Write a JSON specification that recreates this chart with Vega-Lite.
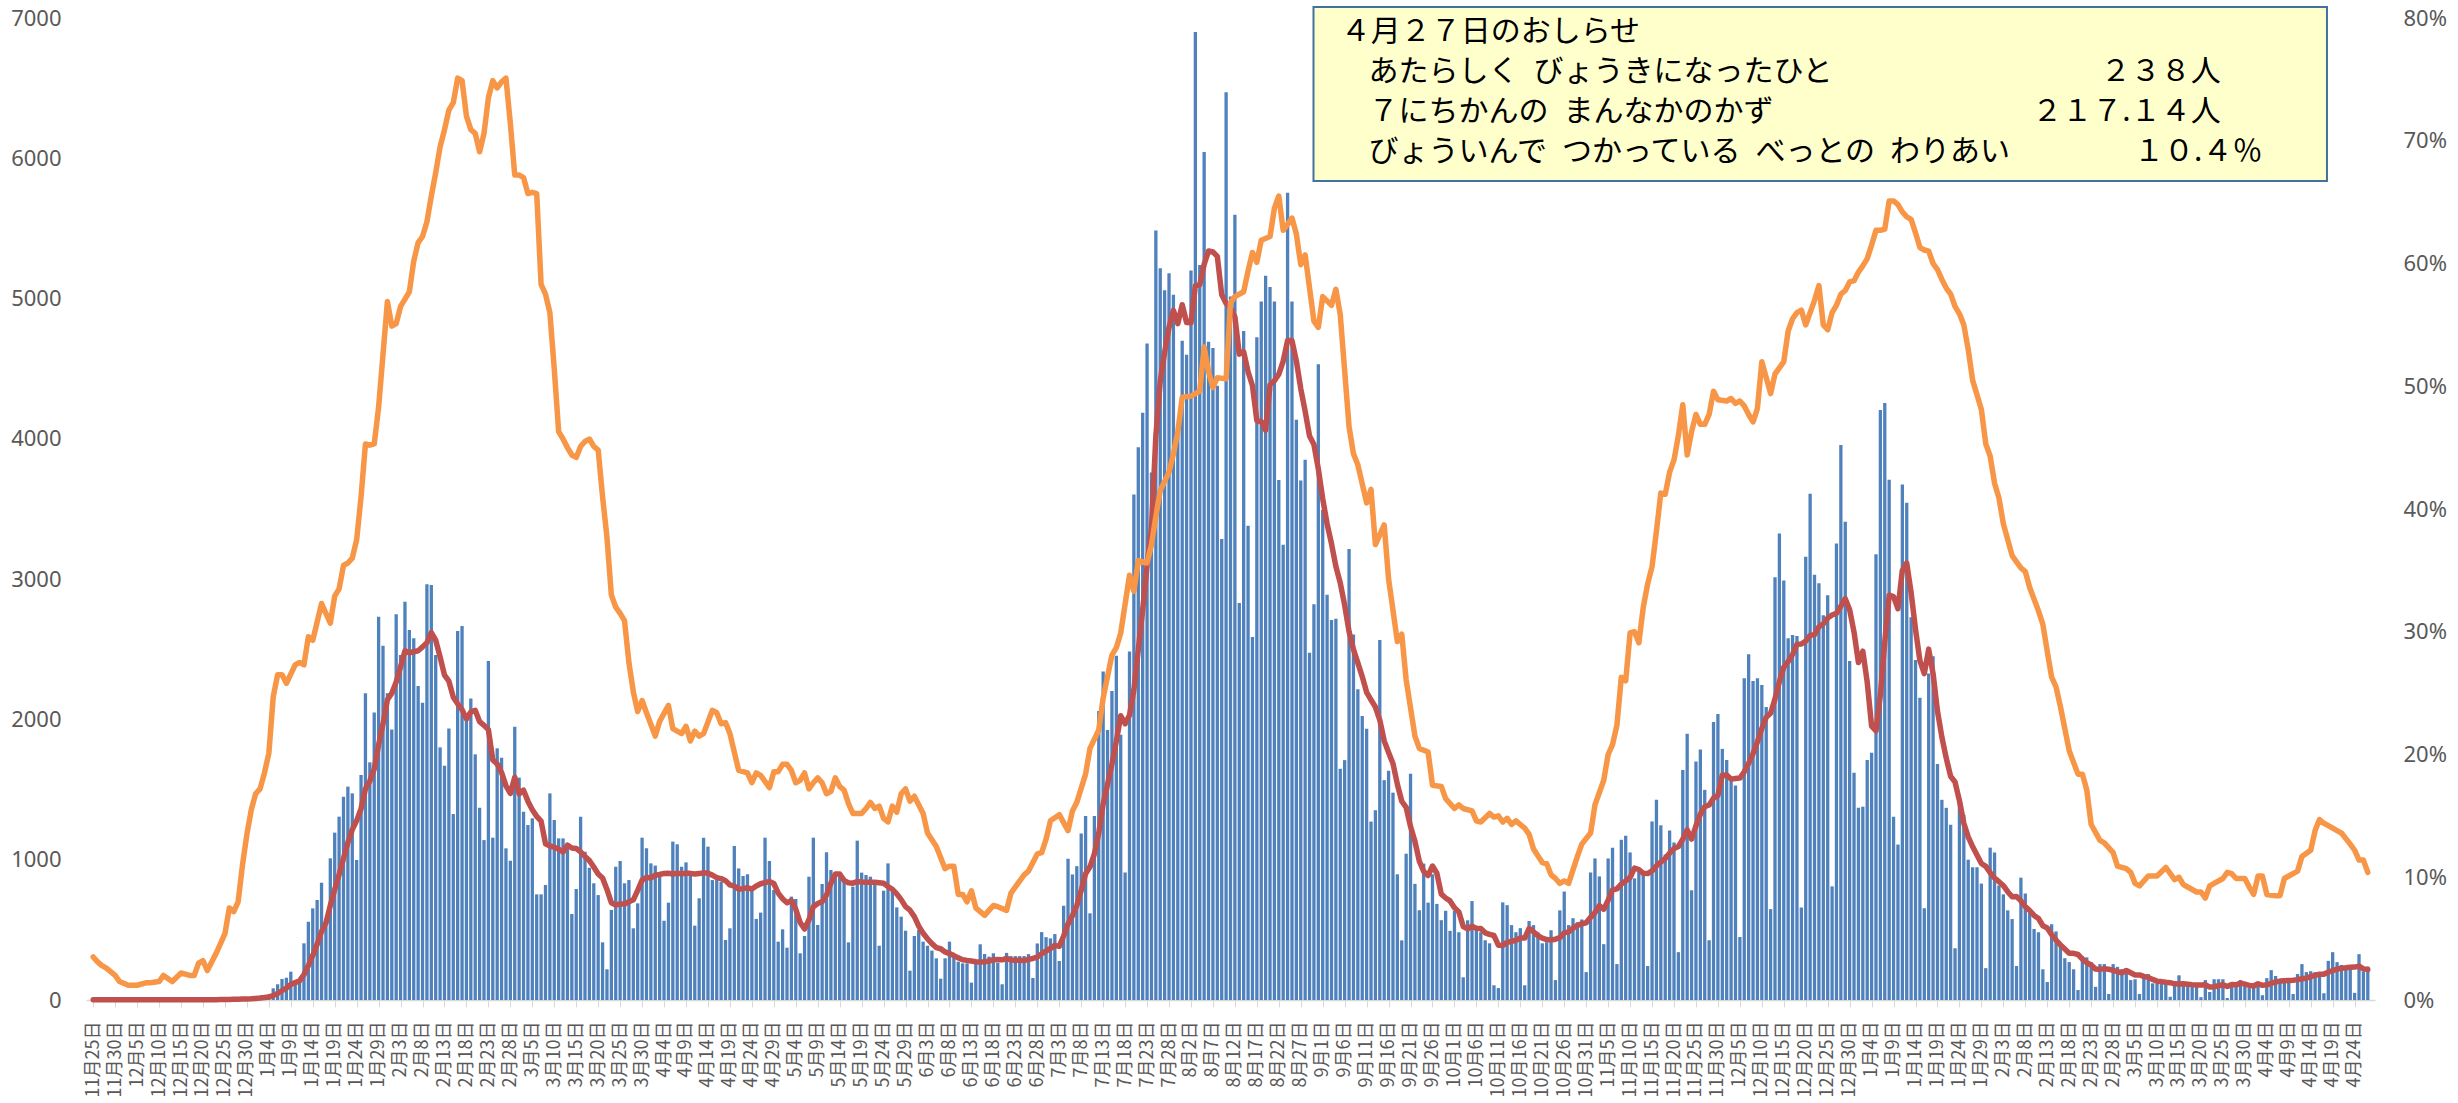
{
"$schema":"https://vega.github.io/schema/vega-lite/v6.json",
"width":2289,"height":982,
"autosize":{"type":"none"},
"padding":{"left":86,"top":18,"right":83,"bottom":103},
"background":"white",
"config":{"view":{"stroke":null},"font":"Noto Sans CJK JP","axis":{"grid":false}},
"datasets":{
"cases":[
{"i":0,"n":2},{"i":1,"n":1},{"i":2,"n":3},{"i":3,"n":2},{"i":4,"n":1},{"i":5,"n":0},{"i":6,"n":2},{"i":7,"n":1},{"i":8,"n":3},{"i":9,"n":2},
{"i":10,"n":1},{"i":11,"n":2},{"i":12,"n":0},{"i":13,"n":1},{"i":14,"n":2},{"i":15,"n":3},{"i":16,"n":1},{"i":17,"n":2},{"i":18,"n":1},{"i":19,"n":0},
{"i":20,"n":2},{"i":21,"n":3},{"i":22,"n":2},{"i":23,"n":1},{"i":24,"n":3},{"i":25,"n":2},{"i":26,"n":4},{"i":27,"n":3},{"i":28,"n":2},{"i":29,"n":5},
{"i":30,"n":4},{"i":31,"n":8},{"i":32,"n":6},{"i":33,"n":10},{"i":34,"n":12},{"i":35,"n":9},{"i":36,"n":15},{"i":37,"n":20},{"i":38,"n":25},{"i":39,"n":30},
{"i":40,"n":40},{"i":41,"n":83},{"i":42,"n":112},{"i":43,"n":150},{"i":44,"n":159},{"i":45,"n":202},{"i":46,"n":119},{"i":47,"n":130},{"i":48,"n":404},{"i":49,"n":558},
{"i":50,"n":653},{"i":51,"n":713},{"i":52,"n":836},{"i":53,"n":546},{"i":54,"n":1010},{"i":55,"n":1193},{"i":56,"n":1307},{"i":57,"n":1449},{"i":58,"n":1521},{"i":59,"n":1473},
{"i":60,"n":998},{"i":61,"n":1604},{"i":62,"n":2186},{"i":63,"n":1694},{"i":64,"n":2050},{"i":65,"n":2732},{"i":66,"n":2526},{"i":67,"n":2186},{"i":68,"n":1929},{"i":69,"n":2749},
{"i":70,"n":2459},{"i":71,"n":2839},{"i":72,"n":2637},{"i":73,"n":2578},{"i":74,"n":2238},{"i":75,"n":2119},{"i":76,"n":2963},{"i":77,"n":2958},{"i":78,"n":2459},{"i":79,"n":1801},
{"i":80,"n":1670},{"i":81,"n":1936},{"i":82,"n":1326},{"i":83,"n":2630},{"i":84,"n":2666},{"i":85,"n":1996},{"i":86,"n":2150},{"i":87,"n":1751},{"i":88,"n":1371},{"i":89,"n":1140},
{"i":90,"n":2416},{"i":91,"n":1157},{"i":92,"n":1794},{"i":93,"n":1727},{"i":94,"n":1081},{"i":95,"n":993},{"i":96,"n":1948},{"i":97,"n":1585},{"i":98,"n":1342},{"i":99,"n":1247},
{"i":100,"n":1295},{"i":101,"n":753},{"i":102,"n":753},{"i":103,"n":820},{"i":104,"n":1473},{"i":105,"n":1283},{"i":106,"n":1152},{"i":107,"n":1152},{"i":108,"n":1093},{"i":109,"n":613},
{"i":110,"n":791},{"i":111,"n":1307},{"i":112,"n":1057},{"i":113,"n":943},{"i":114,"n":832},{"i":115,"n":748},{"i":116,"n":411},{"i":117,"n":219},{"i":118,"n":642},{"i":119,"n":950},
{"i":120,"n":991},{"i":121,"n":832},{"i":122,"n":855},{"i":123,"n":511},{"i":124,"n":689},{"i":125,"n":1157},{"i":126,"n":1081},{"i":127,"n":974},{"i":128,"n":958},{"i":129,"n":891},
{"i":130,"n":565},{"i":131,"n":694},{"i":132,"n":1129},{"i":133,"n":1110},{"i":134,"n":950},{"i":135,"n":981},{"i":136,"n":891},{"i":137,"n":530},{"i":138,"n":725},{"i":139,"n":1157},
{"i":140,"n":1093},{"i":141,"n":855},{"i":142,"n":855},{"i":143,"n":843},{"i":144,"n":428},{"i":145,"n":511},{"i":146,"n":1098},{"i":147,"n":938},{"i":148,"n":884},{"i":149,"n":896},
{"i":150,"n":784},{"i":151,"n":578},{"i":152,"n":623},{"i":153,"n":1157},{"i":154,"n":991},{"i":155,"n":784},{"i":156,"n":416},{"i":157,"n":504},{"i":158,"n":373},{"i":159,"n":737},
{"i":160,"n":720},{"i":161,"n":333},{"i":162,"n":456},{"i":163,"n":879},{"i":164,"n":1157},{"i":165,"n":535},{"i":166,"n":827},{"i":167,"n":1053},{"i":168,"n":927},{"i":169,"n":903},
{"i":170,"n":879},{"i":171,"n":848},{"i":172,"n":411},{"i":173,"n":808},{"i":174,"n":1136},{"i":175,"n":908},{"i":176,"n":891},{"i":177,"n":879},{"i":178,"n":843},{"i":179,"n":387},
{"i":180,"n":779},{"i":181,"n":974},{"i":182,"n":772},{"i":183,"n":660},{"i":184,"n":594},{"i":185,"n":494},{"i":186,"n":209},{"i":187,"n":456},{"i":188,"n":499},{"i":189,"n":416},
{"i":190,"n":387},{"i":191,"n":352},{"i":192,"n":297},{"i":193,"n":152},{"i":194,"n":297},{"i":195,"n":416},{"i":196,"n":316},{"i":197,"n":273},{"i":198,"n":261},{"i":199,"n":261},
{"i":200,"n":124},{"i":201,"n":261},{"i":202,"n":397},{"i":203,"n":328},{"i":204,"n":309},{"i":205,"n":333},{"i":206,"n":265},{"i":207,"n":112},{"i":208,"n":336},{"i":209,"n":313},
{"i":210,"n":313},{"i":211,"n":313},{"i":212,"n":313},{"i":213,"n":327},{"i":214,"n":157},{"i":215,"n":403},{"i":216,"n":484},{"i":217,"n":448},{"i":218,"n":439},{"i":219,"n":470},
{"i":220,"n":278},{"i":221,"n":672},{"i":222,"n":1007},{"i":223,"n":895},{"i":224,"n":954},{"i":225,"n":1187},{"i":226,"n":1312},{"i":227,"n":618},{"i":228,"n":1312},{"i":229,"n":2060},
{"i":230,"n":2342},{"i":231,"n":1925},{"i":232,"n":2203},{"i":233,"n":2454},{"i":234,"n":1890},{"i":235,"n":909},{"i":236,"n":2485},{"i":237,"n":3604},{"i":238,"n":3940},{"i":239,"n":4186},
{"i":240,"n":4679},{"i":241,"n":3761},{"i":242,"n":5485},{"i":243,"n":5216},{"i":244,"n":5060},{"i":245,"n":5180},{"i":246,"n":5028},{"i":247,"n":4021},{"i":248,"n":4700},{"i":249,"n":4600},
{"i":250,"n":5200},{"i":251,"n":6900},{"i":252,"n":5239},{"i":253,"n":6045},{"i":254,"n":4692},{"i":255,"n":4648},{"i":256,"n":4379},{"i":257,"n":3286},{"i":258,"n":6470},{"i":259,"n":5015},
{"i":260,"n":5597},{"i":261,"n":2830},{"i":262,"n":4769},{"i":263,"n":3380},{"i":264,"n":2588},{"i":265,"n":4724},{"i":266,"n":4979},{"i":267,"n":5163},{"i":268,"n":5082},{"i":269,"n":4979},
{"i":270,"n":3707},{"i":271,"n":3246},{"i":272,"n":5754},{"i":273,"n":4979},{"i":274,"n":4137},{"i":275,"n":3703},{"i":276,"n":3851},{"i":277,"n":2476},{"i":278,"n":2821},{"i":279,"n":4531},
{"i":280,"n":3492},{"i":281,"n":2888},{"i":282,"n":2709},{"i":283,"n":2718},{"i":284,"n":1648},{"i":285,"n":1710},{"i":286,"n":3215},{"i":287,"n":2606},{"i":288,"n":2216},{"i":289,"n":2024},
{"i":290,"n":1934},{"i":291,"n":1272},{"i":292,"n":1352},{"i":293,"n":2566},{"i":294,"n":1567},{"i":295,"n":1634},{"i":296,"n":1478},{"i":297,"n":896},{"i":298,"n":425},{"i":299,"n":1043},
{"i":300,"n":1612},{"i":301,"n":828},{"i":302,"n":640},{"i":303,"n":972},{"i":304,"n":694},{"i":305,"n":896},{"i":306,"n":685},{"i":307,"n":569},{"i":308,"n":636},{"i":309,"n":493},
{"i":310,"n":636},{"i":311,"n":483},{"i":312,"n":162},{"i":313,"n":568},{"i":314,"n":705},{"i":315,"n":526},{"i":316,"n":483},{"i":317,"n":426},{"i":318,"n":404},{"i":319,"n":105},
{"i":320,"n":85},{"i":321,"n":696},{"i":322,"n":676},{"i":323,"n":534},{"i":324,"n":483},{"i":325,"n":512},{"i":326,"n":105},{"i":327,"n":563},{"i":328,"n":534},{"i":329,"n":483},
{"i":330,"n":404},{"i":331,"n":412},{"i":332,"n":497},{"i":333,"n":142},{"i":334,"n":639},{"i":335,"n":773},{"i":336,"n":534},{"i":337,"n":583},{"i":338,"n":554},{"i":339,"n":574},
{"i":340,"n":199},{"i":341,"n":909},{"i":342,"n":1009},{"i":343,"n":881},{"i":344,"n":398},{"i":345,"n":1009},{"i":346,"n":1086},{"i":347,"n":256},{"i":348,"n":1142},{"i":349,"n":1171},
{"i":350,"n":1052},{"i":351,"n":867},{"i":352,"n":938},{"i":353,"n":895},{"i":354,"n":242},{"i":355,"n":1273},{"i":356,"n":1427},{"i":357,"n":1245},{"i":358,"n":1037},{"i":359,"n":1208},
{"i":360,"n":1123},{"i":361,"n":341},{"i":362,"n":1640},{"i":363,"n":1898},{"i":364,"n":782},{"i":365,"n":1700},{"i":366,"n":1785},{"i":367,"n":1498},{"i":368,"n":426},{"i":369,"n":1981},
{"i":370,"n":2038},{"i":371,"n":1790},{"i":372,"n":1711},{"i":373,"n":1577},{"i":374,"n":1529},{"i":375,"n":449},{"i":376,"n":2293},{"i":377,"n":2464},{"i":378,"n":2274},{"i":379,"n":2293},
{"i":380,"n":2245},{"i":381,"n":2089},{"i":382,"n":648},{"i":383,"n":3013},{"i":384,"n":3325},{"i":385,"n":2990},{"i":386,"n":2578},{"i":387,"n":2601},{"i":388,"n":2595},{"i":389,"n":659},
{"i":390,"n":3160},{"i":391,"n":3609},{"i":392,"n":3032},{"i":393,"n":2970},{"i":394,"n":2742},{"i":395,"n":2885},{"i":396,"n":810},{"i":397,"n":3254},{"i":398,"n":3956},{"i":399,"n":3410},
{"i":400,"n":2416},{"i":401,"n":1620},{"i":402,"n":1370},{"i":403,"n":1378},{"i":404,"n":1711},{"i":405,"n":1762},{"i":406,"n":3177},{"i":407,"n":4206},{"i":408,"n":4255},{"i":409,"n":3709},
{"i":410,"n":1307},{"i":411,"n":1108},{"i":412,"n":3675},{"i":413,"n":3544},{"i":414,"n":2728},{"i":415,"n":2424},{"i":416,"n":2154},{"i":417,"n":654},{"i":418,"n":2328},{"i":419,"n":2450},
{"i":420,"n":1682},{"i":421,"n":1427},{"i":422,"n":1370},{"i":423,"n":1250},{"i":424,"n":369},{"i":425,"n":1401},{"i":426,"n":1320},{"i":427,"n":1000},{"i":428,"n":946},{"i":429,"n":946},
{"i":430,"n":830},{"i":431,"n":227},{"i":432,"n":1086},{"i":433,"n":1052},{"i":434,"n":816},{"i":435,"n":753},{"i":436,"n":639},{"i":437,"n":577},{"i":438,"n":242},{"i":439,"n":872},
{"i":440,"n":759},{"i":441,"n":625},{"i":442,"n":506},{"i":443,"n":483},{"i":444,"n":219},{"i":445,"n":128},{"i":446,"n":540},{"i":447,"n":489},{"i":448,"n":384},{"i":449,"n":298},
{"i":450,"n":270},{"i":451,"n":219},{"i":452,"n":71},{"i":453,"n":313},{"i":454,"n":304},{"i":455,"n":270},{"i":456,"n":94},{"i":457,"n":256},{"i":458,"n":256},{"i":459,"n":43},
{"i":460,"n":256},{"i":461,"n":236},{"i":462,"n":219},{"i":463,"n":205},{"i":464,"n":142},{"i":465,"n":148},{"i":466,"n":43},{"i":467,"n":185},{"i":468,"n":185},{"i":469,"n":119},
{"i":470,"n":119},{"i":471,"n":119},{"i":472,"n":114},{"i":473,"n":23},{"i":474,"n":128},{"i":475,"n":176},{"i":476,"n":128},{"i":477,"n":99},{"i":478,"n":99},{"i":479,"n":99},
{"i":480,"n":20},{"i":481,"n":142},{"i":482,"n":57},{"i":483,"n":148},{"i":484,"n":148},{"i":485,"n":148},{"i":486,"n":14},{"i":487,"n":114},{"i":488,"n":128},{"i":489,"n":142},
{"i":490,"n":99},{"i":491,"n":85},{"i":492,"n":114},{"i":493,"n":128},{"i":494,"n":34},{"i":495,"n":156},{"i":496,"n":213},{"i":497,"n":171},{"i":498,"n":128},{"i":499,"n":134},
{"i":500,"n":142},{"i":501,"n":43},{"i":502,"n":185},{"i":503,"n":256},{"i":504,"n":199},{"i":505,"n":205},{"i":506,"n":199},{"i":507,"n":199},{"i":508,"n":48},{"i":509,"n":279},
{"i":510,"n":341},{"i":511,"n":270},{"i":512,"n":250},{"i":513,"n":220},{"i":514,"n":230},{"i":515,"n":51},{"i":516,"n":327},{"i":517,"n":204},{"i":518,"n":238}
],
"beds":[
{"i":0,"p":3.5},{"i":1,"p":3.1},{"i":2,"p":2.8},{"i":3,"p":2.6},{"i":5,"p":2.0},{"i":6,"p":1.5},{"i":8,"p":1.2},{"i":10,"p":1.2},{"i":12,"p":1.4},{"i":13,"p":1.4},
{"i":15,"p":1.5},{"i":16,"p":2.0},{"i":18,"p":1.5},{"i":20,"p":2.2},{"i":22,"p":2.0},{"i":23,"p":2.0},{"i":24,"p":3.0},{"i":25,"p":3.2},{"i":26,"p":2.4},{"i":28,"p":3.8},
{"i":30,"p":5.4},{"i":31,"p":7.5},{"i":32,"p":7.2},{"i":33,"p":8.0},{"i":34,"p":11.0},{"i":35,"p":13.5},{"i":36,"p":15.5},{"i":37,"p":16.8},{"i":38,"p":17.2},{"i":39,"p":18.5},
{"i":40,"p":20.1},{"i":41,"p":24.7},{"i":42,"p":26.5},{"i":43,"p":26.5},{"i":44,"p":25.8},{"i":46,"p":27.3},{"i":47,"p":27.5},{"i":48,"p":27.3},{"i":49,"p":29.6},{"i":50,"p":29.3},
{"i":52,"p":32.3},{"i":54,"p":30.7},{"i":55,"p":32.9},{"i":56,"p":33.5},{"i":57,"p":35.4},{"i":58,"p":35.6},{"i":59,"p":36.0},{"i":60,"p":37.5},{"i":61,"p":41.0},{"i":62,"p":45.3},
{"i":63,"p":45.2},{"i":64,"p":45.3},{"i":65,"p":48.3},{"i":66,"p":52.6},{"i":67,"p":56.9},{"i":68,"p":54.9},{"i":69,"p":55.1},{"i":70,"p":56.5},{"i":71,"p":57.1},{"i":72,"p":57.7},
{"i":73,"p":60.2},{"i":74,"p":61.7},{"i":75,"p":62.2},{"i":76,"p":63.4},{"i":77,"p":65.5},{"i":78,"p":67.4},{"i":79,"p":69.5},{"i":80,"p":70.9},{"i":81,"p":72.5},{"i":82,"p":73.1},
{"i":83,"p":75.1},{"i":84,"p":74.9},{"i":85,"p":72.0},{"i":86,"p":70.9},{"i":87,"p":70.6},{"i":88,"p":69.1},{"i":89,"p":70.6},{"i":90,"p":73.5},{"i":91,"p":74.9},{"i":92,"p":74.3},
{"i":93,"p":74.8},{"i":94,"p":75.1},{"i":95,"p":71.4},{"i":96,"p":67.2},{"i":97,"p":67.2},{"i":98,"p":67.0},{"i":99,"p":65.7},{"i":100,"p":65.8},{"i":101,"p":65.7},{"i":102,"p":58.3},
{"i":103,"p":57.5},{"i":104,"p":56.0},{"i":105,"p":51.4},{"i":106,"p":46.3},{"i":107,"p":45.7},{"i":108,"p":45.0},{"i":109,"p":44.4},{"i":110,"p":44.2},{"i":111,"p":45.1},{"i":112,"p":45.5},
{"i":113,"p":45.7},{"i":114,"p":45.1},{"i":115,"p":44.8},{"i":116,"p":41.0},{"i":117,"p":37.7},{"i":118,"p":33.0},{"i":119,"p":32.0},{"i":120,"p":31.5},{"i":121,"p":30.9},{"i":122,"p":27.5},
{"i":123,"p":25.1},{"i":124,"p":23.5},{"i":125,"p":24.4},{"i":126,"p":23.4},{"i":128,"p":21.5},{"i":129,"p":22.7},{"i":131,"p":24.0},{"i":132,"p":22.1},{"i":134,"p":21.7},{"i":135,"p":22.3},
{"i":136,"p":21.1},{"i":137,"p":21.9},{"i":138,"p":21.5},{"i":139,"p":21.7},{"i":141,"p":23.6},{"i":142,"p":23.4},{"i":143,"p":22.5},{"i":144,"p":22.6},{"i":145,"p":21.7},{"i":147,"p":18.7},
{"i":148,"p":18.6},{"i":149,"p":18.5},{"i":150,"p":17.7},{"i":151,"p":18.5},{"i":152,"p":18.3},{"i":154,"p":17.3},{"i":155,"p":18.6},{"i":156,"p":18.6},{"i":157,"p":19.2},{"i":158,"p":19.2},
{"i":159,"p":18.7},{"i":160,"p":17.7},{"i":161,"p":17.9},{"i":162,"p":18.5},{"i":163,"p":17.2},{"i":164,"p":17.7},{"i":165,"p":18.1},{"i":166,"p":17.7},{"i":167,"p":16.8},{"i":168,"p":17.0},
{"i":169,"p":18.1},{"i":170,"p":17.4},{"i":171,"p":17.1},{"i":172,"p":16.0},{"i":173,"p":15.2},{"i":175,"p":15.2},{"i":176,"p":15.6},{"i":177,"p":16.1},{"i":178,"p":15.6},{"i":179,"p":15.8},
{"i":180,"p":14.8},{"i":181,"p":14.5},{"i":182,"p":15.8},{"i":183,"p":15.3},{"i":184,"p":16.8},{"i":185,"p":17.2},{"i":186,"p":16.2},{"i":187,"p":16.6},{"i":189,"p":15.2},{"i":190,"p":13.6},
{"i":192,"p":12.5},{"i":194,"p":10.7},{"i":195,"p":10.9},{"i":196,"p":10.9},{"i":197,"p":8.6},{"i":198,"p":8.6},{"i":199,"p":8.0},{"i":200,"p":8.9},{"i":201,"p":7.5},{"i":203,"p":6.9},
{"i":204,"p":7.3},{"i":205,"p":7.7},{"i":206,"p":7.6},{"i":208,"p":7.3},{"i":209,"p":8.7},{"i":212,"p":10.2},{"i":213,"p":10.5},{"i":215,"p":11.9},{"i":216,"p":12.0},{"i":217,"p":13.1},
{"i":218,"p":14.6},{"i":220,"p":15.1},{"i":222,"p":13.8},{"i":223,"p":15.4},{"i":224,"p":16.1},{"i":226,"p":18.4},{"i":227,"p":20.5},{"i":229,"p":22.0},{"i":230,"p":24.6},{"i":232,"p":28.1},
{"i":233,"p":28.7},{"i":234,"p":29.9},{"i":236,"p":34.6},{"i":237,"p":33.3},{"i":238,"p":35.8},{"i":240,"p":35.6},{"i":241,"p":37.1},{"i":242,"p":39.4},{"i":243,"p":41.5},{"i":245,"p":43.0},
{"i":246,"p":44.5},{"i":247,"p":46.3},{"i":248,"p":49.1},{"i":250,"p":49.2},{"i":252,"p":49.6},{"i":253,"p":53.2},{"i":254,"p":51.2},{"i":255,"p":49.9},{"i":256,"p":50.7},{"i":258,"p":50.6},
{"i":259,"p":56.8},{"i":260,"p":57.3},{"i":262,"p":57.7},{"i":263,"p":59.4},{"i":264,"p":60.9},{"i":265,"p":60.1},{"i":266,"p":61.9},{"i":268,"p":62.2},{"i":269,"p":64.5},{"i":270,"p":65.5},
{"i":271,"p":62.7},{"i":273,"p":63.7},{"i":274,"p":62.4},{"i":275,"p":59.9},{"i":276,"p":60.7},{"i":278,"p":55.3},{"i":279,"p":54.8},{"i":280,"p":57.3},{"i":282,"p":56.6},{"i":283,"p":57.9},
{"i":284,"p":55.8},{"i":286,"p":46.7},{"i":287,"p":44.5},{"i":288,"p":43.6},{"i":290,"p":40.5},{"i":291,"p":41.6},{"i":292,"p":37.1},{"i":294,"p":38.7},{"i":295,"p":34.3},{"i":297,"p":29.2},
{"i":298,"p":29.8},{"i":299,"p":26.1},{"i":301,"p":21.5},{"i":302,"p":20.5},{"i":304,"p":20.2},{"i":305,"p":17.5},{"i":307,"p":17.4},{"i":308,"p":16.4},{"i":310,"p":15.6},{"i":311,"p":15.9},
{"i":312,"p":15.6},{"i":314,"p":15.4},{"i":315,"p":14.6},{"i":316,"p":14.5},{"i":318,"p":15.2},{"i":319,"p":14.9},{"i":320,"p":15.0},{"i":321,"p":14.5},{"i":322,"p":14.8},{"i":323,"p":14.3},
{"i":324,"p":14.6},{"i":326,"p":14.0},{"i":327,"p":13.5},{"i":328,"p":12.3},{"i":330,"p":11.2},{"i":331,"p":11.1},{"i":332,"p":10.2},{"i":333,"p":9.9},{"i":334,"p":9.5},{"i":335,"p":9.7},
{"i":336,"p":9.5},{"i":338,"p":11.7},{"i":339,"p":12.7},{"i":341,"p":13.6},{"i":342,"p":15.9},{"i":344,"p":17.9},{"i":345,"p":20.0},{"i":346,"p":20.8},{"i":347,"p":22.4},{"i":348,"p":26.3},
{"i":349,"p":26.0},{"i":350,"p":29.9},{"i":351,"p":30.0},{"i":352,"p":29.1},{"i":353,"p":32.0},{"i":354,"p":33.9},{"i":355,"p":35.3},{"i":356,"p":38.2},{"i":357,"p":41.3},{"i":358,"p":41.2},
{"i":359,"p":43.0},{"i":360,"p":44.0},{"i":361,"p":46.0},{"i":362,"p":48.5},{"i":363,"p":44.4},{"i":364,"p":46.3},{"i":365,"p":47.7},{"i":366,"p":46.9},{"i":367,"p":46.9},{"i":368,"p":47.7},
{"i":369,"p":49.6},{"i":370,"p":48.9},{"i":372,"p":48.8},{"i":373,"p":49.0},{"i":374,"p":48.6},{"i":375,"p":48.8},{"i":376,"p":48.4},{"i":377,"p":47.7},{"i":378,"p":47.1},{"i":379,"p":48.2},
{"i":380,"p":52.0},{"i":382,"p":49.4},{"i":383,"p":51.0},{"i":384,"p":51.5},{"i":385,"p":52.0},{"i":386,"p":54.5},{"i":387,"p":55.5},{"i":388,"p":56.0},{"i":389,"p":56.2},{"i":390,"p":55.0},
{"i":391,"p":56.0},{"i":392,"p":57.0},{"i":393,"p":58.2},{"i":394,"p":55.0},{"i":395,"p":54.6},{"i":396,"p":56.0},{"i":397,"p":56.6},{"i":398,"p":57.5},{"i":399,"p":57.8},{"i":400,"p":58.5},
{"i":401,"p":58.6},{"i":402,"p":59.3},{"i":403,"p":59.8},{"i":404,"p":60.4},{"i":405,"p":61.5},{"i":406,"p":62.7},{"i":407,"p":62.7},{"i":408,"p":62.8},{"i":409,"p":65.1},{"i":410,"p":65.1},
{"i":411,"p":64.8},{"i":412,"p":64.2},{"i":413,"p":63.8},{"i":414,"p":63.6},{"i":415,"p":62.5},{"i":416,"p":61.3},{"i":417,"p":61.1},{"i":418,"p":61.0},{"i":419,"p":60.0},{"i":420,"p":59.5},
{"i":421,"p":58.7},{"i":422,"p":58.0},{"i":423,"p":57.5},{"i":424,"p":56.5},{"i":425,"p":55.9},{"i":426,"p":55.0},{"i":427,"p":53.0},{"i":428,"p":50.5},{"i":430,"p":48.1},{"i":431,"p":45.3},
{"i":432,"p":44.3},{"i":433,"p":42.1},{"i":434,"p":40.9},{"i":435,"p":38.8},{"i":437,"p":36.2},{"i":438,"p":35.7},{"i":439,"p":35.2},{"i":440,"p":34.9},{"i":441,"p":33.6},{"i":443,"p":31.7},
{"i":444,"p":30.6},{"i":445,"p":28.4},{"i":446,"p":26.3},{"i":447,"p":25.5},{"i":448,"p":23.9},{"i":450,"p":20.3},{"i":452,"p":18.4},{"i":453,"p":18.4},{"i":454,"p":17.1},{"i":455,"p":14.3},
{"i":457,"p":13.0},{"i":458,"p":12.8},{"i":460,"p":12.0},{"i":461,"p":10.9},{"i":463,"p":10.7},{"i":464,"p":10.4},{"i":465,"p":9.5},{"i":466,"p":9.3},{"i":468,"p":10.1},{"i":470,"p":10.1},
{"i":472,"p":10.8},{"i":474,"p":9.8},{"i":475,"p":10.0},{"i":476,"p":9.4},{"i":478,"p":9.0},{"i":479,"p":8.8},{"i":480,"p":8.8},{"i":481,"p":8.3},{"i":482,"p":9.3},{"i":483,"p":9.5},
{"i":485,"p":9.9},{"i":486,"p":10.4},{"i":487,"p":10.3},{"i":488,"p":9.9},{"i":490,"p":9.9},{"i":491,"p":9.2},{"i":492,"p":8.6},{"i":493,"p":10.1},{"i":494,"p":10.1},{"i":495,"p":8.6},
{"i":497,"p":8.5},{"i":498,"p":8.5},{"i":499,"p":9.9},{"i":500,"p":10.1},{"i":502,"p":10.5},{"i":503,"p":11.7},{"i":505,"p":12.2},{"i":506,"p":13.8},{"i":507,"p":14.7},{"i":508,"p":14.4},
{"i":509,"p":14.2},{"i":511,"p":13.8},{"i":512,"p":13.6},{"i":514,"p":12.7},{"i":515,"p":12.2},{"i":516,"p":11.4},{"i":517,"p":11.4},{"i":518,"p":10.4}
]
},
"layer":[
{
"layer":[
{"data":{"name":"cases"},
"mark":{"type":"bar","color":"#4F81BD","width":3.3},
"encoding":{
"x":{"field":"i","type":"quantitative","scale":{"domain":[-0.5,518.5],"nice":false,"zero":false},
"axis":{"values":[0,5,10,15,20,25,30,35,40,45,50,55,60,65,70,75,80,85,90,95,100,105,110,115,120,125,130,135,140,145,150,155,160,165,170,175,180,185,190,195,200,205,210,215,220,225,230,235,240,245,250,255,260,265,270,275,280,285,290,295,300,305,310,315,320,325,330,335,340,345,350,355,360,365,370,375,380,385,390,395,400,405,410,415,420,425,430,435,440,445,450,455,460,465,470,475,480,485,490,495,500,505,510,515],
"tickCount":300,
"labelExpr":"timeFormat(datetime(2021, 10, 25 + datum.value), '%-m月%-d日')",
"labelAngle":-90,"labelFontSize":18,"labelColor":"#595959","labelFont":"Noto Sans CJK JP",
"domainColor":"#d9d9d9","domainWidth":1.5,"tickColor":"#d9d9d9","tickSize":7,"labelPadding":14,
"labelOverlap":false,"labelBound":false,"labelFlush":false,"labelSeparation":0,"title":null,"grid":false}},
"y":{"field":"n","type":"quantitative","scale":{"domain":[0,7000],"nice":false},
"axis":{"values":[0,1000,2000,3000,4000,5000,6000,7000],"format":"d","labelFontSize":22,"labelColor":"#595959","labelFont":"Noto Sans",
"domain":false,"ticks":false,"grid":false,"labelPadding":25,"title":null}}
}},
{"data":{"name":"cases"},
"transform":[{"window":[{"op":"mean","field":"n","as":"avg"}],"frame":[-6,0],"sort":[{"field":"i","order":"ascending"}]}],
"mark":{"type":"line","color":"#C0504D","strokeWidth":5.5,"strokeJoin":"round","strokeCap":"round"},
"encoding":{"x":{"field":"i","type":"quantitative"},"y":{"field":"avg","type":"quantitative","scale":{"domain":[0,7000]}}}},
{"data":{"values":[{}]},
"mark":{"type":"rect","fill":"#FFFFCC","stroke":"#41719C","strokeWidth":2},
"encoding":{"x":{"datum":277.9,"type":"quantitative"},"x2":{"datum":508.7},"y":{"datum":5838,"type":"quantitative"},"y2":{"datum":7078}}},
{"data":{"values":[{}]},
"mark":{"type":"text","align":"left","baseline":"middle","fontSize":30,"font":"Noto Sans CJK JP","color":"#000000"},
"encoding":{"x":{"datum":284.1,"type":"quantitative"},"y":{"datum":6900,"type":"quantitative"},"text":{"value":"４月２７日のおしらせ"}}},
{"data":{"values":[{}]},
"mark":{"type":"text","align":"left","baseline":"middle","fontSize":30,"font":"Noto Sans CJK JP","color":"#000000"},
"encoding":{"x":{"datum":290.4,"type":"quantitative"},"y":{"datum":6615,"type":"quantitative"},"text":{"value":"あたらしく\u2002びょうきになったひと"}}},
{"data":{"values":[{}]},
"mark":{"type":"text","align":"left","baseline":"middle","fontSize":30,"font":"Noto Sans CJK JP","color":"#000000"},
"encoding":{"x":{"datum":290.4,"type":"quantitative"},"y":{"datum":6330,"type":"quantitative"},"text":{"value":"７にちかんの\u2002まんなかのかず"}}},
{"data":{"values":[{}]},
"mark":{"type":"text","align":"left","baseline":"middle","fontSize":30,"font":"Noto Sans CJK JP","color":"#000000"},
"encoding":{"x":{"datum":290.4,"type":"quantitative"},"y":{"datum":6045,"type":"quantitative"},"text":{"value":"びょういんで\u2002つかっている\u2002べっとの\u2002わりあい"}}},
{"data":{"values":[{}]},
"mark":{"type":"text","align":"right","baseline":"middle","fontSize":30,"font":"Noto Sans CJK JP","color":"#000000"},
"encoding":{"x":{"datum":484.5,"type":"quantitative"},"y":{"datum":6615,"type":"quantitative"},"text":{"value":"２３８人"}}},
{"data":{"values":[{}]},
"mark":{"type":"text","align":"right","baseline":"middle","fontSize":30,"font":"Noto Sans CJK JP","color":"#000000"},
"encoding":{"x":{"datum":484.5,"type":"quantitative"},"y":{"datum":6330,"type":"quantitative"},"text":{"value":"２１７.１４人"}}},
{"data":{"values":[{}]},
"mark":{"type":"text","align":"right","baseline":"middle","fontSize":30,"font":"Noto Sans CJK JP","color":"#000000"},
"encoding":{"x":{"datum":494.0,"type":"quantitative"},"y":{"datum":6045,"type":"quantitative"},"text":{"value":"１０.４％"}}}
]
},
{"data":{"name":"beds"},
"mark":{"type":"line","color":"#F79646","strokeWidth":5.5,"strokeJoin":"round","strokeCap":"round"},
"encoding":{
"x":{"field":"i","type":"quantitative"},
"y":{"field":"p","type":"quantitative","scale":{"domain":[0,80],"nice":false},
"axis":{"orient":"right","values":[0,10,20,30,40,50,60,70,80],"labelExpr":"datum.value + '%'","labelFontSize":22,"labelColor":"#595959","labelFont":"Noto Sans",
"domain":false,"ticks":false,"grid":false,"labelPadding":28,"title":null}}
}}
],
"resolve":{"scale":{"y":"independent"}}
}
